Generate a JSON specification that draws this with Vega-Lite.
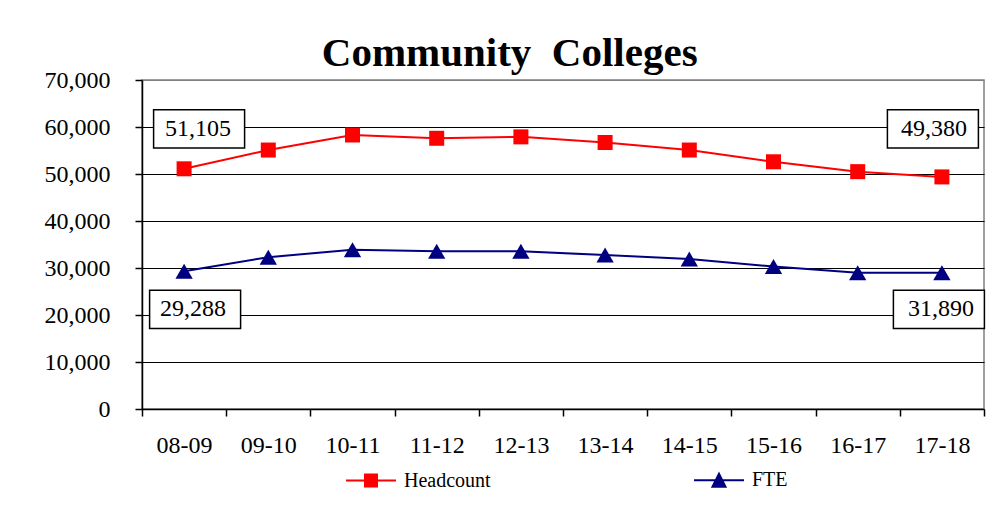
{
  "$schema": "https://vega.github.io/schema/vega-lite/v6.json",
  "width": 842,
  "height": 329,
  "autosize": {"type": "none"},
  "padding": {"left": 142, "top": 80, "right": 15, "bottom": 101},
  "background": "white",
  "title": {
    "text": "Community\u00a0 Colleges",
    "font": "Liberation Serif",
    "fontSize": 41,
    "fontWeight": "bold",
    "color": "black",
    "anchor": "middle",
    "frame": "bounds",
    "baseline": "alphabetic",
    "offset": 2,
    "dy": 41,
    "dx": -6
  },
  "datasets": {
    "enrollment": [
      {"period": "08-09", "series": "Headcount", "value": 51105},
      {"period": "09-10", "series": "Headcount", "value": 55100},
      {"period": "10-11", "series": "Headcount", "value": 58300},
      {"period": "11-12", "series": "Headcount", "value": 57600},
      {"period": "12-13", "series": "Headcount", "value": 57900},
      {"period": "13-14", "series": "Headcount", "value": 56700},
      {"period": "14-15", "series": "Headcount", "value": 55100},
      {"period": "15-16", "series": "Headcount", "value": 52600},
      {"period": "16-17", "series": "Headcount", "value": 50500},
      {"period": "17-18", "series": "Headcount", "value": 49380},
      {"period": "08-09", "series": "FTE", "value": 29288},
      {"period": "09-10", "series": "FTE", "value": 32300},
      {"period": "10-11", "series": "FTE", "value": 33900},
      {"period": "11-12", "series": "FTE", "value": 33550},
      {"period": "12-13", "series": "FTE", "value": 33550},
      {"period": "13-14", "series": "FTE", "value": 32750},
      {"period": "14-15", "series": "FTE", "value": 31900},
      {"period": "15-16", "series": "FTE", "value": 30300},
      {"period": "16-17", "series": "FTE", "value": 29000},
      {"period": "17-18", "series": "FTE", "value": 29000}
    ],
    "callouts": [
      {"period": "08-09", "series": "Headcount", "label": "51,105", "at": 59600},
      {"period": "17-18", "series": "Headcount", "label": "49,380", "at": 59600},
      {"period": "08-09", "series": "FTE", "label": "29,288", "at": 21200},
      {"period": "17-18", "series": "FTE", "label": "31,890", "at": 21200}
    ]
  },
  "layer": [
    {
      "data": {"name": "enrollment"},
      "mark": {"type": "line", "strokeWidth": 2},
      "encoding": {
        "x": {
          "field": "period", "type": "ordinal",
          "scale": {"type": "band", "paddingInner": 0, "paddingOuter": 0},
          "axis": {
            "title": null, "labelAngle": 0, "tickBand": "extent", "tickSize": 7,
            "tickWidth": 1.5, "domainWidth": 1.5, "labelFontSize": 24, "labelPadding": 17,
            "grid": false
          }
        },
        "y": {
          "field": "value", "type": "quantitative",
          "scale": {"domain": [0, 70000], "nice": false},
          "axis": {
            "title": null,
            "values": [0, 10000, 20000, 30000, 40000, 50000, 60000, 70000],
            "format": ",d", "labelFontSize": 24, "labelPadding": 25, "tickSize": 7,
            "tickWidth": 1.5, "domainWidth": 1.5, "grid": true, "gridWidth": 1.2,
            "gridColor": {"condition": {"test": "datum.value === 70000", "value": "#808080"}, "value": "black"}
          }
        },
        "color": {
          "field": "series", "type": "nominal",
          "scale": {"domain": ["Headcount", "FTE"], "range": ["#FF0000", "#000080"]},
          "legend": {
            "orient": "none", "legendX": 203, "legendY": 374, "direction": "horizontal",
            "title": null, "labelFont": "Liberation Serif", "labelFontSize": 20,
            "labelColor": "black", "labelOffset": 7, "columnPadding": 199,
            "padding": 0,
            "symbolSize": 2500,
            "symbolType": {"expr": "datum.value === 'Headcount' ? 'M-1,0L1,0M-0.24,-0.24L0.24,-0.24L0.24,0.24L-0.24,0.24Z' : 'M-1,0L1,0M-0.26,0.26L0,-0.26L0.26,0.26Z'"},
            "symbolFillColor": {"expr": "datum.value === 'Headcount' ? '#FF0000' : '#000080'"},
            "symbolStrokeColor": {"expr": "datum.value === 'Headcount' ? '#FF0000' : '#000080'"},
            "symbolStrokeWidth": 2,
            "symbolOpacity": 1
          }
        }
      }
    },
    {
      "data": {"name": "enrollment"},
      "mark": {
        "type": "point", "filled": true, "opacity": 1,
        "shape": {"expr": "datum.series === 'Headcount' ? 'square' : 'triangle-up'"},
        "size": {"expr": "datum.series === 'Headcount' ? 225 : 300"}
      },
      "encoding": {
        "x": {"field": "period", "type": "ordinal"},
        "y": {"field": "value", "type": "quantitative"},
        "color": {"field": "series", "type": "nominal", "legend": null}
      }
    },
    {
      "data": {"name": "callouts"},
      "mark": {
        "type": "point",
        "shape": "M-1,-0.42L1,-0.42L1,0.42L-1,0.42Z",
        "size": 8281, "filled": true, "fill": "white", "stroke": "black",
        "strokeWidth": 1.5, "opacity": 1,
        "xOffset": {"expr": "datum.period === '08-09' ? (datum.series === 'Headcount' ? 15 : 11) : (datum.series === 'Headcount' ? -9 : -3)"}
      },
      "encoding": {
        "x": {"field": "period", "type": "ordinal"},
        "y": {"field": "at", "type": "quantitative"}
      }
    },
    {
      "data": {"name": "callouts"},
      "mark": {
        "type": "text", "font": "Liberation Serif", "fontSize": 24, "color": "black",
        "align": "center", "baseline": "middle",
        "xOffset": {"expr": "datum.period === '08-09' ? (datum.series === 'Headcount' ? 14 : 9) : (datum.series === 'Headcount' ? -8 : -1)"}
      },
      "encoding": {
        "x": {"field": "period", "type": "ordinal"},
        "y": {"field": "at", "type": "quantitative"},
        "text": {"field": "label", "type": "nominal"}
      }
    }
  ],
  "config": {
    "font": "Liberation Serif",
    "view": {"stroke": "#808080", "strokeWidth": 1.5},
    "axis": {
      "labelFont": "Liberation Serif", "labelColor": "black",
      "domainColor": "black", "tickColor": "black"
    }
  }
}
